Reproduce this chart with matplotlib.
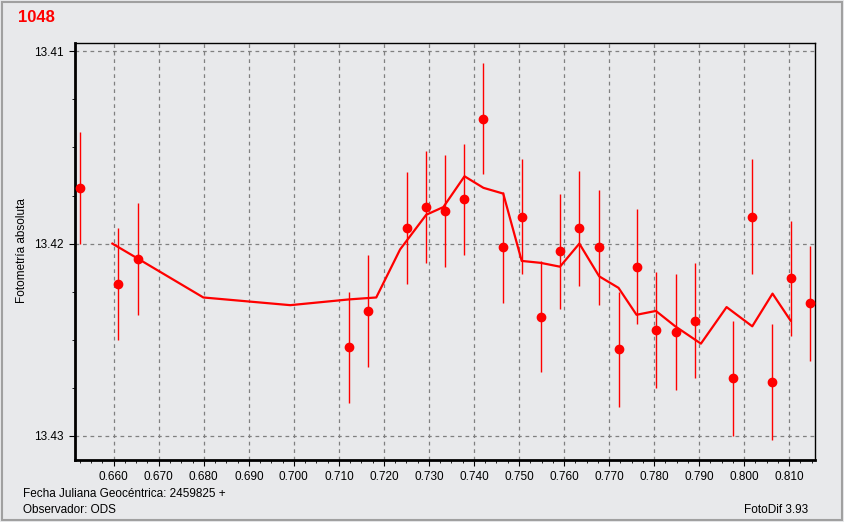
import numpy as np
import matplotlib
matplotlib.use("Agg")
import matplotlib.pyplot as plt
from matplotlib.ticker import MultipleLocator, FormatStrFormatter
from matplotlib.patches import Rectangle

plt.rcParams["font.family"] = "Liberation Sans"

# observed points (JD fraction, magnitude, error)
jd = [0.6525, 0.6610, 0.6655, 0.7123, 0.7165, 0.7251, 0.7294, 0.7336,
      0.7378, 0.7420, 0.7464, 0.7506, 0.7549, 0.7591, 0.7634, 0.7678,
      0.7721, 0.7761, 0.7804, 0.7849, 0.7891, 0.7975, 0.8018, 0.8061,
      0.8103, 0.8146]
mag = [13.4171, 13.4221, 13.4208, 13.4254, 13.4235, 13.4192, 13.4181, 13.4183,
       13.4177, 13.4135, 13.4202, 13.4186, 13.4238, 13.4204, 13.4192, 13.4202,
       13.4255, 13.4212, 13.4245, 13.4246, 13.4240, 13.4270, 13.4186, 13.4272,
       13.4218, 13.4231]
err = [0.0029, 0.0029, 0.0029, 0.0029, 0.0029, 0.0029, 0.0029, 0.0029,
       0.0029, 0.0029, 0.0029, 0.0030, 0.0029, 0.0030, 0.0030, 0.0030,
       0.0030, 0.0030, 0.0030, 0.0030, 0.0030, 0.0030, 0.0030, 0.0030,
       0.0030, 0.0030]

# smoothed curve
fit_x = [0.6597, 0.6655, 0.6799, 0.6992, 0.7123, 0.7183, 0.7236, 0.7294,
         0.7332, 0.7379, 0.7421, 0.7465, 0.7506, 0.7548, 0.7591, 0.7634,
         0.7678, 0.7721, 0.7761, 0.7804, 0.7847, 0.7904, 0.7961, 0.8018,
         0.8063, 0.8103]
fit_y = [13.4200, 13.4208, 13.4228, 13.4232, 13.4229, 13.4228, 13.4203, 13.4185,
         13.4181, 13.4165, 13.4171, 13.4174, 13.4209, 13.4210, 13.4212, 13.4200,
         13.4217, 13.4223, 13.4237, 13.4235, 13.4243, 13.4252, 13.4233, 13.4243,
         13.4226, 13.4240]

bg = "#e8e9eb"
fig = plt.figure(figsize=(8.44, 5.22), dpi=100, facecolor=bg)
ax = fig.add_axes((75 / 844, 62 / 522, 740.3 / 844, 417 / 522))
ax.set_facecolor(bg)

ax.plot(fit_x, fit_y, color="#ff0000", linewidth=1.6, zorder=3)
ax.errorbar(jd, mag, yerr=err, fmt="o", color="#ff0000", ms=6,
            elinewidth=1.0, capsize=0, zorder=4)

ax.set_xlim(0.6514, 0.8158)
ax.set_ylim(13.43125, 13.40957)
ax.xaxis.set_major_locator(MultipleLocator(0.01))
ax.xaxis.set_minor_locator(MultipleLocator(0.0025))
ax.yaxis.set_major_locator(MultipleLocator(0.01))
ax.yaxis.set_minor_locator(MultipleLocator(0.0025))
ax.xaxis.set_major_formatter(FormatStrFormatter("%.3f"))
ax.yaxis.set_major_formatter(FormatStrFormatter("%.2f"))
ax.tick_params(which="both", direction="out", labelsize=8.5, colors="black")
ax.tick_params(which="major", length=4, width=0.8, pad=4)
ax.tick_params(which="minor", length=2.5, width=0.6)
ax.grid(True, which="major", color="#808080", linestyle=(0, (3, 3)), linewidth=0.9)

for s in ("left", "bottom"):
    ax.spines[s].set_linewidth(2.0)
for s in ("top", "right"):
    ax.spines[s].set_linewidth(1.0)

fig.text(22 / 844, 1 - 251 / 522, "Fotometría absoluta", rotation=90,
         ha="center", va="center", fontsize=8.5)
fig.text(18 / 844, 1 - 18 / 522, "1048", color="#ff0000", fontsize=12,
         fontweight="bold", ha="left", va="center")
fig.text(23 / 844, 1 - 494 / 522, "Fecha Juliana Geocéntrica: 2459825 +",
         fontsize=8.5, ha="left", va="center")
fig.text(23 / 844, 1 - 510 / 522, "Observador: ODS", fontsize=8.5,
         ha="left", va="center")
fig.text(808 / 844, 1 - 510 / 522, "FotoDif 3.93", fontsize=8.5,
         ha="right", va="center")

fig.patches.append(Rectangle((2 / 844, 2 / 522), 840 / 844, 518 / 522,
                             transform=fig.transFigure, fill=False,
                             edgecolor="#a0a0a0", linewidth=1.5))

fig.savefig("out.png", dpi=100, facecolor=bg)
